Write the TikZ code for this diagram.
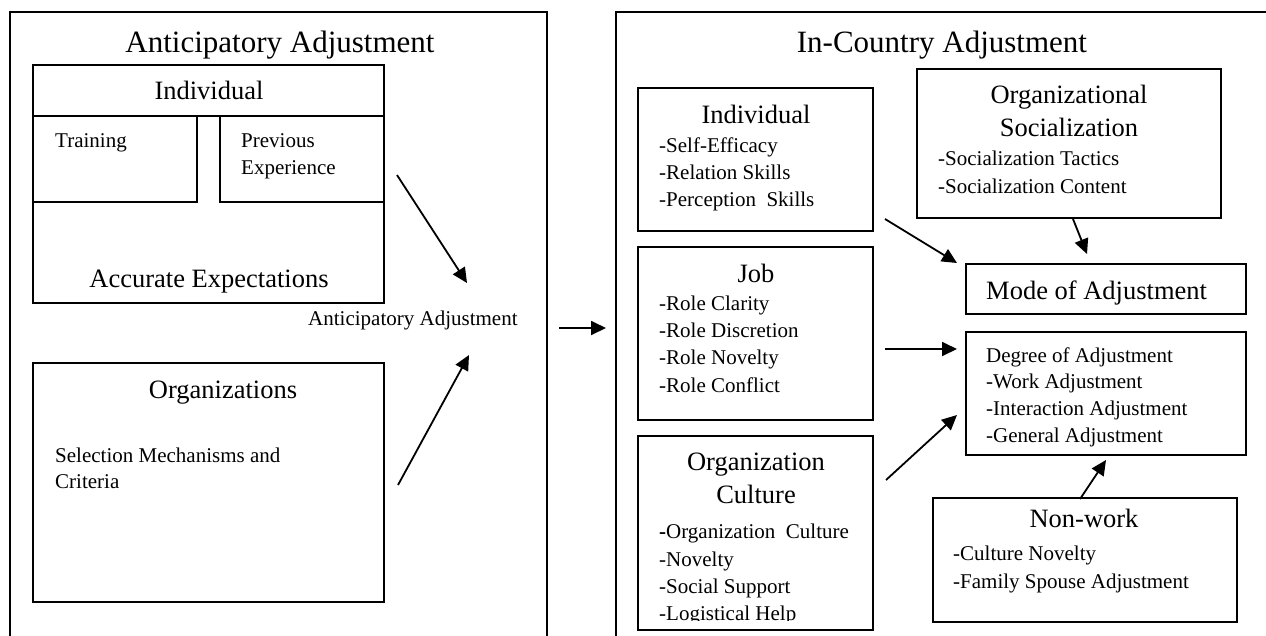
\documentclass[tikz,border=0pt]{standalone}
\usepackage{fontspec}
\setmainfont{Liberation Serif}
\usetikzlibrary{arrows.meta}
\begin{document}
\begin{tikzpicture}[x=1pt,y=-1pt,
  box/.style={draw, line width=1.9pt, rectangle, inner sep=0pt, outer sep=0pt, anchor=north west},
  big/.style={font=\fontsize{31}{36}\selectfont, inner sep=0pt, anchor=base},
  head/.style={font=\fontsize{26.5}{32}\selectfont, inner sep=0pt, anchor=base},
  headw/.style={font=\fontsize{26.5}{32}\selectfont, inner sep=0pt, anchor=base west},
  small/.style={font=\fontsize{21}{27}\selectfont, inner sep=0pt, anchor=base west},
  arr/.style={line width=1.8pt, -{Triangle[length=15pt,width=14pt]}}]
\useasboundingbox (0,0) rectangle (1266,635);
\clip (0,0) rectangle (1266,635);
% outer frames
\node[box, minimum width=537pt, minimum height=660pt] (lout) at (10,12) {};
\node[box, minimum width=680pt, minimum height=660pt] (rout) at (616,12) {};
\node[big] (ltitle) at (280,52) {Anticipatory Adjustment};
\node[big] (rtitle) at (942,52) {In-Country Adjustment};
% left: individual
\node[box, minimum width=351pt, minimum height=238pt] (lind) at (33,65) {};
\draw[line width=1.9pt] (lind.north west |- 0,116) -- (lind.north east |- 0,116);
\node[box, minimum width=164pt, minimum height=86pt] (ltrain) at (33,116) {};
\node[box, minimum width=164pt, minimum height=86pt] (lprev) at (220,116) {};
\node[head] (lindt) at (209,99) {Individual};
\node[small] (ltraint) at (55,147) {Training};
\node[small] (lprevt1) at (241,147) {Previous};
\node[small] (lprevt2) at (241,174) {Experience};
\node[head] (lacc) at (209,287) {Accurate Expectations};
% left: organizations
\node[box, minimum width=351pt, minimum height=239pt] (lorg) at (33,363) {};
\node[head] (lorgt) at (223,398) {Organizations};
\node[small] (lsel1) at (55,462) {Selection Mechanisms and};
\node[small] (lsel2) at (55,488) {Criteria};
% anticipatory label and arrows
\node[small] (alabel) at (308,325) {Anticipatory Adjustment};
\coordinate (a1s) at (397,175);
\coordinate (a1e) at (467,283);
\coordinate (a2s) at (398,485);
\coordinate (a2e) at (469,355);
\draw[arr] (a1s) -- (a1e);
\draw[arr] (a2s) -- (a2e);
\coordinate (mids) at (559,328);
\coordinate (mide) at (606,328);
\draw[arr] (mids) -- (mide);
% right: individual
\node[box, minimum width=235pt, minimum height=143pt] (rind) at (638,88) {};
\node[head] (rindt) at (756,123) {Individual};
\node[small] (ri1) at (659,152) {-Self-Efficacy};
\node[small] (ri2) at (659,179) {-Relation Skills};
\node[small] (ri3) at (659,206) {-Perception\ \ Skills};
% right: job
\node[box, minimum width=235pt, minimum height=173pt] (rjob) at (638,247) {};
\node[head] (rjobt) at (756,282) {Job};
\node[small] (rj1) at (659,310) {-Role Clarity};
\node[small] (rj2) at (659,337) {-Role Discretion};
\node[small] (rj3) at (659,364) {-Role Novelty};
\node[small] (rj4) at (659,392) {-Role Conflict};
% right: organization culture
\node[box, minimum width=235pt, minimum height=194pt] (rcult) at (638,436) {};
\node[head] (rcultt1) at (756,470) {Organization};
\node[head] (rcultt2) at (756,503) {Culture};
\node[small] (rc1) at (659,538) {\textbf{-}Organization\ \ Culture};
\node[small] (rc2) at (659,566) {-Novelty};
\node[small] (rc3) at (659,593) {-Social Support};
\begin{scope}
\clip (640,590) rectangle (870,620.5);
\node[small] (rc4) at (659,620) {-Logistical Help};
\end{scope}
% right: organizational socialization
\node[box, minimum width=304pt, minimum height=149pt] (rsoc) at (917,69) {};
\node[head] (rsoct1) at (1069,103) {Organizational};
\node[head] (rsoct2) at (1069,136) {Socialization};
\node[small] (rs1) at (938,165) {-Socialization Tactics};
\node[small] (rs2) at (938,193) {-Socialization Content};
% mode
\node[box, minimum width=280pt, minimum height=50pt] (rmode) at (966,264) {};
\node[headw] (rmodet) at (986,299) {Mode of Adjustment};
% degree
\node[box, minimum width=280pt, minimum height=123pt] (rdeg) at (966,332) {};
\node[small] (rd0) at (986,362) {Degree of Adjustment};
\node[small] (rd1) at (986,388) {-Work Adjustment};
\node[small] (rd2) at (986,415) {-Interaction Adjustment};
\node[small] (rd3) at (986,442) {-General Adjustment};
% non-work
\node[box, minimum width=304pt, minimum height=124pt] (rnw) at (933,498) {};
\node[head] (rnwt) at (1084,527) {Non-work};
\node[small] (rn1) at (953,560) {-Culture Novelty};
\node[small] (rn2) at (953,588) {-Family Spouse Adjustment};
% arrows right
\coordinate (b1s) at (885,219);
\coordinate (b1e) at (957,263);
\coordinate (b2s) at (1073,219);
\coordinate (b2e) at (1087,254);
\coordinate (b3s) at (885,349);
\coordinate (b3e) at (957,349);
\coordinate (b4s) at (886,480);
\coordinate (b4e) at (957,415);
\coordinate (b5s) at (1080,499);
\coordinate (b5e) at (1106,460);
\draw[arr] (b1s) -- (b1e);
\draw[arr] (b2s) -- (b2e);
\draw[arr] (b3s) -- (b3e);
\draw[arr] (b4s) -- (b4e);
\draw[arr] (b5s) -- (b5e);
\end{tikzpicture}
\end{document}
